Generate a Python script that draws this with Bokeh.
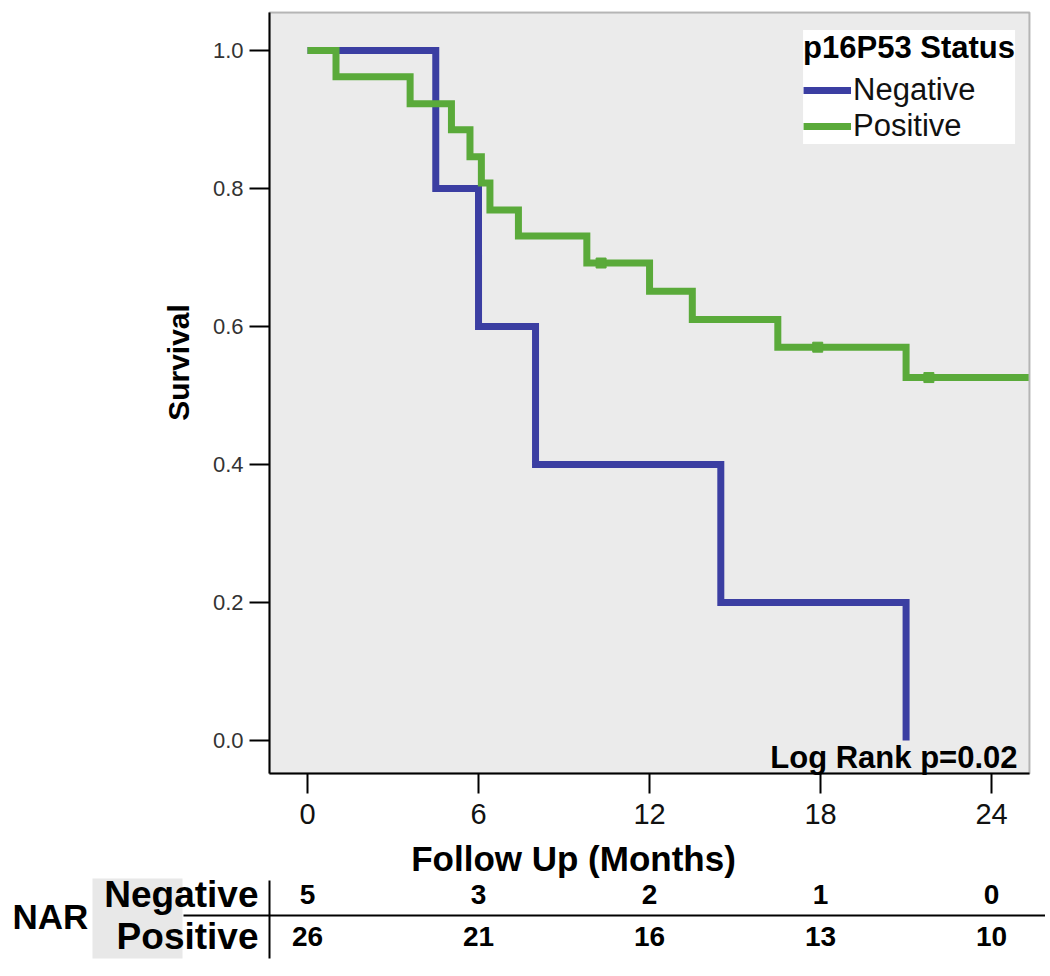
import math
from bokeh.plotting import figure
from bokeh.models import (Range1d, FixedTicker, Legend, LegendItem, Label, LinearAxis,
                          ColumnDataSource, PrintfTickFormatter, BoxAnnotation)
from bokeh.core.properties import value
from bokeh.embed import file_html
from bokeh.resources import INLINE

# ---- data ----
neg_time = [0, 4.5, 6.0, 8.0, 14.5, 21.0]
neg_surv = [1.0, 0.8, 0.6, 0.4, 0.2, 0.0]

pos_time = [0, 1.0, 3.6, 5.05, 5.7, 6.1, 6.4, 7.4, 9.8, 12.0, 13.5, 16.5, 21.0, 25.3]
pos_surv = [1.0, 0.962, 0.923, 0.885, 0.846, 0.808, 0.769, 0.731, 0.692, 0.651, 0.610, 0.570, 0.526, 0.526]
pos_cens_time = [10.3, 17.9, 21.8]
pos_cens_surv = [0.692, 0.570, 0.526]

x_ticks = [0, 6, 12, 18, 24]
y_ticks = [0.0, 0.2, 0.4, 0.6, 0.8, 1.0]
nar_months = [0, 6, 12, 18, 24]
nar_negative = [5, 3, 2, 1, 0]
nar_positive = [26, 21, 16, 13, 10]
nar_rows = ["Negative", "Positive"]

BLUE = "#3b3ea2"
GREEN = "#5aaa3a"
FONT = "Liberation Sans"

# ---- layout (pixels on the canvas) ----
W, H = 1045, 970
PX_X0, PX_PER_MONTH = 307.0, 28.504      # pixel of month 0, pixels per month
PX_Y1, PX_PER_UNIT = 50.0, 690.0         # pixel of survival 1.0, pixels per unit


def xd(px):   # canvas pixel -> month
    return (px - PX_X0) / PX_PER_MONTH


def yd(py):   # canvas pixel -> survival
    return 1.0 - (py - PX_Y1) / PX_PER_UNIT


X0, X1 = xd(269), xd(1029)      # plot box
Y0, Y1 = yd(773), yd(12)

p = figure(width=W, height=H, output_backend="svg", toolbar_location=None,
           x_range=Range1d(xd(0), xd(W)), y_range=Range1d(yd(H), yd(0)),
           x_axis_location=None, y_axis_location=None)
p.min_border = 0
p.min_border_left = 0
p.min_border_right = 0
p.min_border_top = 0
p.min_border_bottom = 0
p.outline_line_color = None
p.background_fill_color = "white"
p.border_fill_color = "white"
p.xgrid.visible = False
p.ygrid.visible = False

# plot box background
p.add_layout(BoxAnnotation(left=X0, right=X1, bottom=Y0, top=Y1, fill_color="#ebebeb",
                           fill_alpha=1, line_color="#222222", line_width=2, level="underlay"))

r_neg = p.step(neg_time, neg_surv, mode="after", line_color=BLUE, line_width=7, line_join="miter")
r_pos = p.step(pos_time, pos_surv, mode="after", line_color=GREEN, line_width=7, line_join="miter")
p.scatter(pos_cens_time, pos_cens_surv, marker="square", size=10, fill_color=GREEN, line_color=GREEN)

# axes placed on the plot box edges
xaxis = LinearAxis(fixed_location=Y0, bounds=(X0, X1), ticker=FixedTicker(ticks=x_ticks))
yaxis = LinearAxis(fixed_location=X0, bounds=(Y0, Y1), ticker=FixedTicker(ticks=y_ticks),
                   formatter=PrintfTickFormatter(format="%.1f"))
for ax in (xaxis, yaxis):
    ax.axis_line_color = "black"
    ax.axis_line_width = 2
    ax.major_tick_line_color = "black"
    ax.major_tick_line_width = 2
    ax.major_tick_out = 20
    ax.major_tick_in = 0
    ax.minor_tick_line_color = None
xaxis.major_label_text_font = FONT
xaxis.major_label_text_font_size = "29px"
xaxis.major_label_text_color = "#111111"
xaxis.major_label_standoff = 10
yaxis.major_label_text_font = FONT
yaxis.major_label_text_font_size = "22px"
yaxis.major_label_text_color = "#333333"
yaxis.major_label_standoff = 6
p.add_layout(xaxis, "below")
p.add_layout(yaxis, "left")

# axis titles
p.add_layout(Label(x=xd(573), y=yd(858), text="Follow Up (Months)", text_align="center",
                   text_baseline="middle", text_font=FONT, text_font_style="bold",
                   text_font_size="35px", text_color="black"))
p.add_layout(Label(x=xd(178), y=yd(362), text="Survival", angle=math.pi / 2,
                   text_align="center", text_baseline="middle", text_font=FONT,
                   text_font_style="bold", text_font_size="30px", text_color="black"))

# legend
legend = Legend(items=[LegendItem(label="Negative", renderers=[r_neg]),
                       LegendItem(label="Positive", renderers=[r_pos])],
                title="p16P53 Status", location="top_right")
legend.margin = 30
legend.padding = 14
legend.spacing = 0
legend.background_fill_color = "white"
legend.background_fill_alpha = 1
legend.border_line_color = None
legend.title_text_font = FONT
legend.title_text_font_style = "bold"
legend.title_text_font_size = "31px"
legend.title_text_color = "black"
legend.title_standoff = 6
legend.label_text_font = FONT
legend.label_text_font_size = "31px"
legend.label_text_color = "#111111"
legend.label_standoff = 2
legend.glyph_width = 48
legend.glyph_height = 36
legend.label_height = 36
p.add_layout(legend)

# log rank text
p.add_layout(Label(x=xd(1017), y=yd(757), text="Log Rank p=0.02", text_align="right",
                   text_baseline="middle", text_font=FONT, text_font_style="bold",
                   text_font_size="31px", text_color="black"))

# ---- number-at-risk table ----
p.quad(left=[xd(92)], right=[xd(182)], top=[yd(878)], bottom=[yd(958)],
       fill_color="#e8e8e8", line_color=None, level="underlay")
p.segment(x0=[xd(183)], y0=[yd(915)], x1=[xd(W)], y1=[yd(915)], line_color="black", line_width=2)
p.segment(x0=[X0], y0=[yd(880)], x1=[X0], y1=[yd(958)], line_color="black", line_width=2)

row_y = [yd(894), yd(936)]
p.text(x=[xd(12)], y=[yd(916)], text=["NAR"], text_font=value(FONT), text_font_style="bold",
       text_font_size="35px", text_align="left", text_baseline="middle", text_color="black")
p.text(x=[xd(258)] * 2, y=row_y, text=nar_rows, text_font=value(FONT), text_font_style="bold",
       text_font_size="37px", text_align="right", text_baseline="middle", text_color="black")

src = ColumnDataSource(dict(t=nar_months,
                            neg=[str(v) for v in nar_negative],
                            pos=[str(v) for v in nar_positive]))
p.text(x="t", y=row_y[0], text="neg", source=src, text_font=value(FONT), text_font_style="bold",
       text_font_size="28px", text_align="center", text_baseline="middle", text_color="black")
p.text(x="t", y=row_y[1], text="pos", source=src, text_font=value(FONT), text_font_style="bold",
       text_font_size="28px", text_align="center", text_baseline="middle", text_color="black")

open("out.html", "w").write(file_html(p, INLINE))
